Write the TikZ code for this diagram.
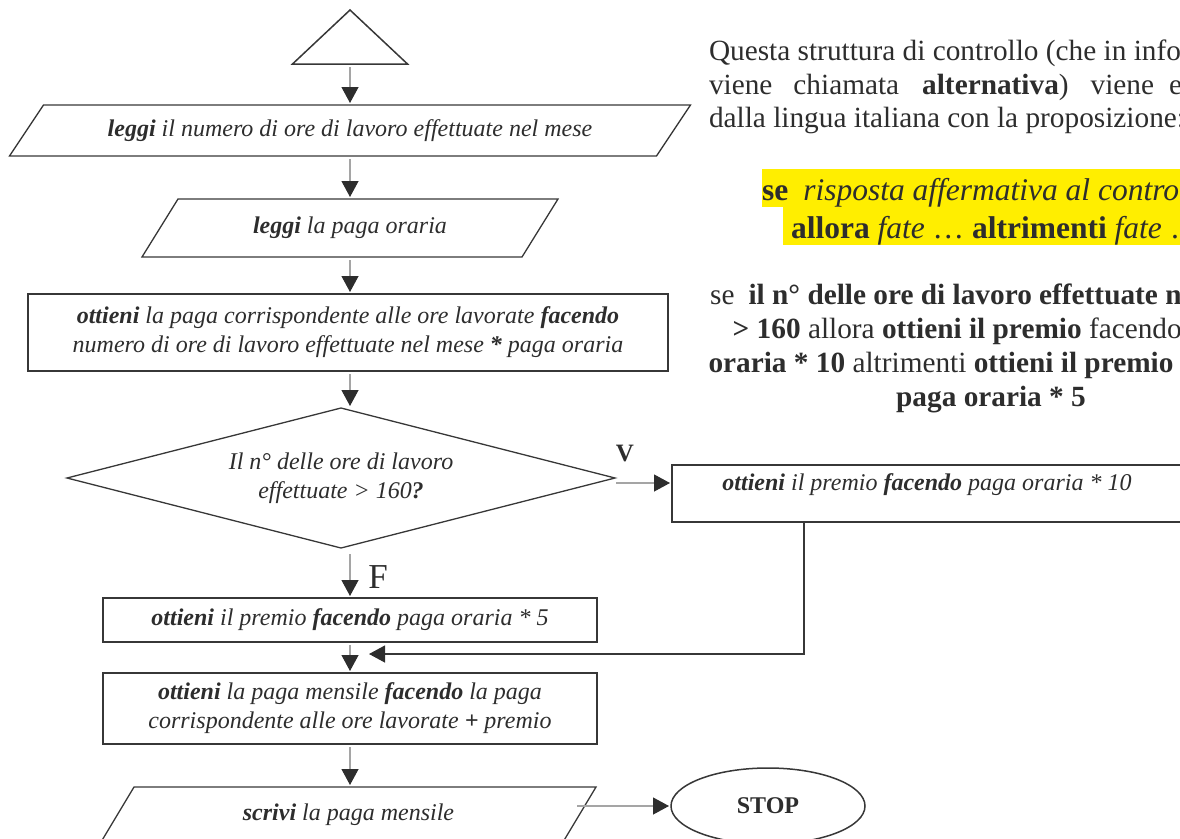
\documentclass[tikz,border=0pt]{standalone}
\usepackage{fontspec}
\setmainfont{Liberation Serif}
\usetikzlibrary{arrows.meta,shapes.geometric,calc}

\definecolor{ink}{RGB}{45,45,45}
\definecolor{edge}{RGB}{55,55,55}
\definecolor{wire}{RGB}{165,165,165}
\definecolor{marker}{RGB}{255,238,0}

\newcommand\flowfont{\fontsize{24}{29}\selectfont\itshape}
\newcommand\bodyfont{\fontsize{29.3}{33.5}\selectfont}
\newcommand\hlfont{\fontsize{31.5}{36}\selectfont}

\begin{document}
\begin{tikzpicture}[x=1pt,y=-1pt,
  every node/.style={inner sep=0pt, outer sep=0pt, text=ink},
  outline/.style={draw=edge, line width=1.3pt, line join=miter},
  heavy/.style={draw=edge, line width=2pt},
  flow/.style={font=\flowfont, align=center},
  garr/.style={draw=wire, line width=1.2pt,
    -{Triangle[length=16pt,width=17pt,color=ink]},
    shorten <=3pt, shorten >=2pt},
  darr/.style={draw=edge, line width=1.2pt,
    -{Triangle[length=16pt,width=17pt,color=ink]}},
  body/.style={font=\bodyfont, anchor=base west},
  rule/.style={font=\bodyfont, anchor=base}]

\useasboundingbox (0,0) rectangle (1180,838);
\clip (0,0) rectangle (1180,838);

% vertical spine of the flowchart
\coordinate (spine) at (350,0);

% start triangle
\node[minimum width=115pt, minimum height=54pt] (start) at (350,37) {};
\draw[draw=edge, line width=1.5pt, line join=miter]
  (start.south west) -- (start.north) -- (start.south east) -- cycle;

% input: hours worked
\node[flow, minimum width=681pt, minimum height=51pt] (in1) at (350,130.5)
  {\textbf{leggi} il numero di ore di lavoro effettuate nel mese};
\draw[outline] ($(in1.north west)+(34,0)$) -- (in1.north east)
  -- ($(in1.south east)-(34,0)$) -- (in1.south west) -- cycle;

% input: hourly pay
\node[flow, minimum width=416pt, minimum height=58pt] (in2) at (350,228)
  {\textbf{leggi} la paga oraria};
\draw[outline] ($(in2.north west)+(36,0)$) -- (in2.north east)
  -- ($(in2.south east)-(36,0)$) -- (in2.south west) -- cycle;

% base pay
\node[flow, outline, line width=1.2pt, minimum width=640pt, minimum height=77pt] (base) at (348,332.5)
  {\textbf{ottieni} la paga corrispondente alle ore lavorate \textbf{facendo}\\
   numero di ore di lavoro effettuate nel mese \textbf{*} paga oraria};

% decision
\node[flow, minimum width=548pt, minimum height=140pt] (test) at (341,478)
  {Il n° delle ore di lavoro\\ effettuate > 160\textbf{?}};
\draw[outline] (test.north) -- (test.east) -- (test.south) -- (test.west) -- cycle;

% true branch
\node[heavy, minimum width=580pt, minimum height=57pt] (yes) at (962,493.5) {};
\node[flow] (yestxt) at (927,485)
  {\textbf{ottieni} il premio \textbf{facendo} paga oraria * 10};

% false branch
\node[flow, heavy, minimum width=494pt, minimum height=44pt] (no) at (350,620)
  {\textbf{ottieni} il premio \textbf{facendo} paga oraria * 5};

% monthly pay
\node[flow, heavy, minimum width=494pt, minimum height=71pt] (sum) at (350,708.5)
  {\textbf{ottieni} la paga mensile \textbf{facendo} la paga\\
   corrispondente alle ore lavorate \textbf{+} premio};

% output
\node[flow, minimum width=495pt, minimum height=55pt] (out) at (348.5,814.5)
  {\textbf{scrivi} la paga mensile};
\draw[outline] ($(out.north west)+(33,0)$) -- (out.north east)
  -- ($(out.south east)-(33,0)$) -- (out.south west) -- cycle;

% stop
\node[ellipse, draw=edge, line width=1.5pt, minimum width=194pt, minimum height=76pt,
  font=\fontsize{24}{28}\selectfont\bfseries] (stop) at (768,806) {STOP};

% branch labels
\node[font=\fontsize{25}{30}\selectfont\bfseries] (vlab) at (625,453) {V};
\node[font=\fontsize{35}{40}\selectfont] (flab) at (378,577) {F};

% connectors
\draw[garr] (start.south) -- (in1.north -| spine);
\draw[garr] (in1.south -| spine) -- (in2.north -| spine);
\draw[garr] (in2.south -| spine) -- (base.north -| spine);
\draw[garr] (base.south -| spine) -- (test.north -| spine);
\draw[garr, shorten <=6pt] (test.south -| spine) -- (no.north -| spine);
\draw[garr, shorten <=1pt] ([yshift=-5pt]test.east) -- ([yshift=-5pt]test.east -| yes.west);
\draw[garr] (no.south -| spine) -- (sum.north -| spine);
\draw[garr] (sum.south -| spine) -- (out.north -| spine);

\coordinate (loopin) at ($(yes.south west)+(132,0)$);
\coordinate (loopend) at (369,654);
\draw[darr] (loopin) |- (loopend);

\coordinate (outport) at (577,806);
\draw[garr, shorten <=0pt] (outport) -- (stop.west);

% explanatory text
\node[body] (q1) at (709,60) {Questa struttura di controllo (che in informatica};
\node[body] (q2) at (709,94)
  {viene\hspace{21pt}chiamata\hspace{23pt}\textbf{alternativa})\hspace{22pt}viene\hspace{15pt}espressa};
\node[body] (q3) at (709,127) {dalla lingua italiana con la proposizione:};

\fill[marker] (762,169) rectangle (1180,207);
\fill[marker] (783,207) rectangle (1180,245);
\node[font=\hlfont, anchor=base west] (h1) at (762,200)
  {\textbf{se}\hspace{15pt}\textit{risposta affermativa al controllo}};
\node[font=\hlfont, anchor=base west] (h2) at (791,238)
  {\textbf{allora} \textit{fate} … \textbf{altrimenti} \textit{fate} …};

\node[rule] (rule1) at (991,304) {se\hspace{14pt}\textbf{il n° delle ore di lavoro effettuate nel mese}};
\node[rule] (rule2) at (991,338) {\textbf{> 160} allora \textbf{ottieni il premio} facendo \textbf{paga}};
\node[rule] (rule3) at (991,372) {\textbf{oraria * 10} altrimenti \textbf{ottieni il premio} facendo};
\node[rule] (rule4) at (991,406) {\textbf{paga oraria * 5}};

\end{tikzpicture}
\end{document}
